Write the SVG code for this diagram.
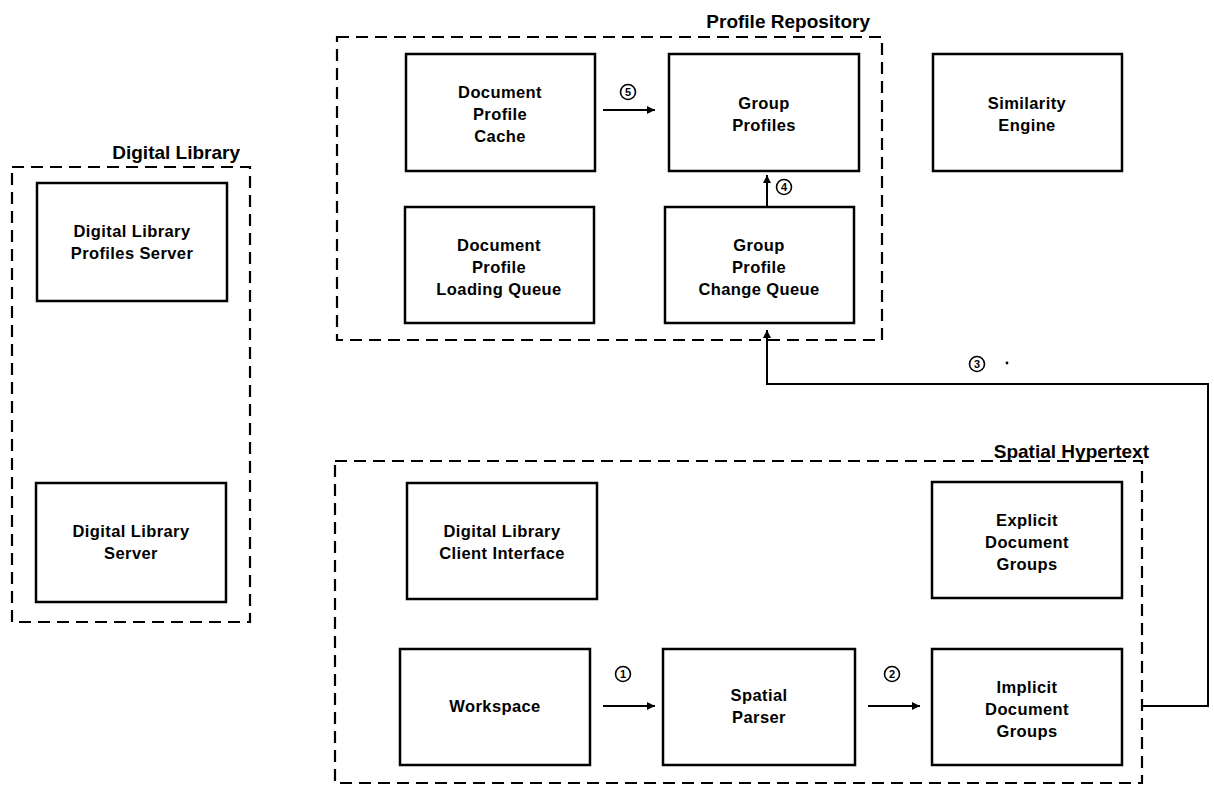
<svg xmlns="http://www.w3.org/2000/svg" width="1214" height="787" viewBox="0 0 1214 787">
  <style>
    .box { fill: #fff; stroke: #000; stroke-width: 2.5; }
    .group { fill: none; stroke: #000; stroke-width: 2.2; stroke-dasharray: 12 7; }
    .label { font-family: "Liberation Sans", Arial, sans-serif; font-weight: bold; font-size: 16.5px; letter-spacing: 0.4px; text-anchor: middle; fill: #000; }
    .title { font-family: "Liberation Sans", Arial, sans-serif; font-weight: bold; font-size: 19px; text-anchor: end; fill: #000; }
    .ring { fill: #fff; stroke: #000; stroke-width: 1.6; }
    .num { font-family: "Liberation Sans", Arial, sans-serif; font-weight: bold; font-size: 11px; text-anchor: middle; fill: #000; }
    .wire { fill: none; stroke: #000; stroke-width: 2; }
  </style>
  <defs>
    <marker id="arrow" viewBox="0 0 10 10" refX="10" refY="5" markerWidth="9" markerHeight="8" markerUnits="userSpaceOnUse" orient="auto">
      <path d="M0,0 L10,5 L0,10 z" fill="#000"/>
    </marker>
  </defs>
  <rect width="1214" height="787" fill="#fff"/>

  <!-- Container groups -->
  <g id="profile-repository">
    <rect class="group" x="337" y="37" width="545" height="303"/>
    <text class="title" x="870" y="28">Profile Repository</text>
  </g>
  <g id="digital-library">
    <rect class="group" x="12" y="167" width="238" height="455"/>
    <text class="title" x="240" y="159">Digital Library</text>
  </g>
  <g id="spatial-hypertext">
    <rect class="group" x="335" y="461" width="807" height="322"/>
    <text class="title" x="1149" y="458">Spatial Hypertext</text>
  </g>

  <!-- Profile repository components -->
  <g id="doc-profile-cache">
    <rect class="box" x="406" y="54" width="189" height="117"/>
    <text class="label" x="500" y="98">Document</text>
    <text class="label" x="500" y="120">Profile</text>
    <text class="label" x="500" y="142">Cache</text>
  </g>
  <g id="group-profiles">
    <rect class="box" x="669" y="54" width="190" height="117"/>
    <text class="label" x="764" y="109">Group</text>
    <text class="label" x="764" y="131">Profiles</text>
  </g>
  <g id="similarity-engine">
    <rect class="box" x="933" y="54" width="189" height="117"/>
    <text class="label" x="1027" y="109">Similarity</text>
    <text class="label" x="1027" y="131">Engine</text>
  </g>
  <g id="doc-profile-loading-queue">
    <rect class="box" x="405" y="207" width="189" height="116"/>
    <text class="label" x="499" y="251">Document</text>
    <text class="label" x="499" y="273">Profile</text>
    <text class="label" x="499" y="295">Loading Queue</text>
  </g>
  <g id="group-profile-change-queue">
    <rect class="box" x="665" y="207" width="189" height="116"/>
    <text class="label" x="759" y="251">Group</text>
    <text class="label" x="759" y="273">Profile</text>
    <text class="label" x="759" y="295">Change Queue</text>
  </g>

  <!-- Digital library components -->
  <g id="dl-profiles-server">
    <rect class="box" x="37" y="183" width="190" height="118"/>
    <text class="label" x="132" y="237">Digital Library</text>
    <text class="label" x="132" y="259">Profiles Server</text>
  </g>
  <g id="dl-server">
    <rect class="box" x="36" y="483" width="190" height="119"/>
    <text class="label" x="131" y="537">Digital Library</text>
    <text class="label" x="131" y="559">Server</text>
  </g>

  <!-- Spatial hypertext components -->
  <g id="dl-client-interface">
    <rect class="box" x="407" y="483" width="190" height="116"/>
    <text class="label" x="502" y="537">Digital Library</text>
    <text class="label" x="502" y="559">Client Interface</text>
  </g>
  <g id="explicit-groups">
    <rect class="box" x="932" y="482" width="190" height="116"/>
    <text class="label" x="1027" y="526">Explicit</text>
    <text class="label" x="1027" y="548">Document</text>
    <text class="label" x="1027" y="570">Groups</text>
  </g>
  <g id="workspace">
    <rect class="box" x="400" y="649" width="190" height="116"/>
    <text class="label" x="495" y="712">Workspace</text>
  </g>
  <g id="spatial-parser">
    <rect class="box" x="663" y="649" width="192" height="116"/>
    <text class="label" x="759" y="701">Spatial</text>
    <text class="label" x="759" y="723">Parser</text>
  </g>
  <g id="implicit-groups">
    <rect class="box" x="932" y="649" width="190" height="116"/>
    <text class="label" x="1027" y="693">Implicit</text>
    <text class="label" x="1027" y="715">Document</text>
    <text class="label" x="1027" y="737">Groups</text>
  </g>

  <!-- Connectors with numbered step markers -->
  <g id="connectors">
    <line class="wire" x1="603" y1="706" x2="655" y2="706" marker-end="url(#arrow)"/>
    <circle class="ring" cx="623" cy="674" r="7.5"/>
    <text class="num" x="623" y="678">1</text>

    <line class="wire" x1="868" y1="706" x2="920" y2="706" marker-end="url(#arrow)"/>
    <circle class="ring" cx="892" cy="674" r="7.5"/>
    <text class="num" x="892" y="678">2</text>

    <path class="wire" d="M1142,706 H1208 V384 H767 V330" marker-end="url(#arrow)"/>
    <circle class="ring" cx="977" cy="364" r="7.5"/>
    <text class="num" x="977" y="368">3</text>
    <circle cx="1007" cy="363" r="1.4" fill="#000"/>

    <line class="wire" x1="767" y1="206" x2="767" y2="175" marker-end="url(#arrow)"/>
    <circle class="ring" cx="784" cy="187" r="7.5"/>
    <text class="num" x="784" y="191">4</text>

    <line class="wire" x1="603" y1="110" x2="655" y2="110" marker-end="url(#arrow)"/>
    <circle class="ring" cx="628" cy="92" r="7.5"/>
    <text class="num" x="628" y="96">5</text>
  </g>
</svg>
